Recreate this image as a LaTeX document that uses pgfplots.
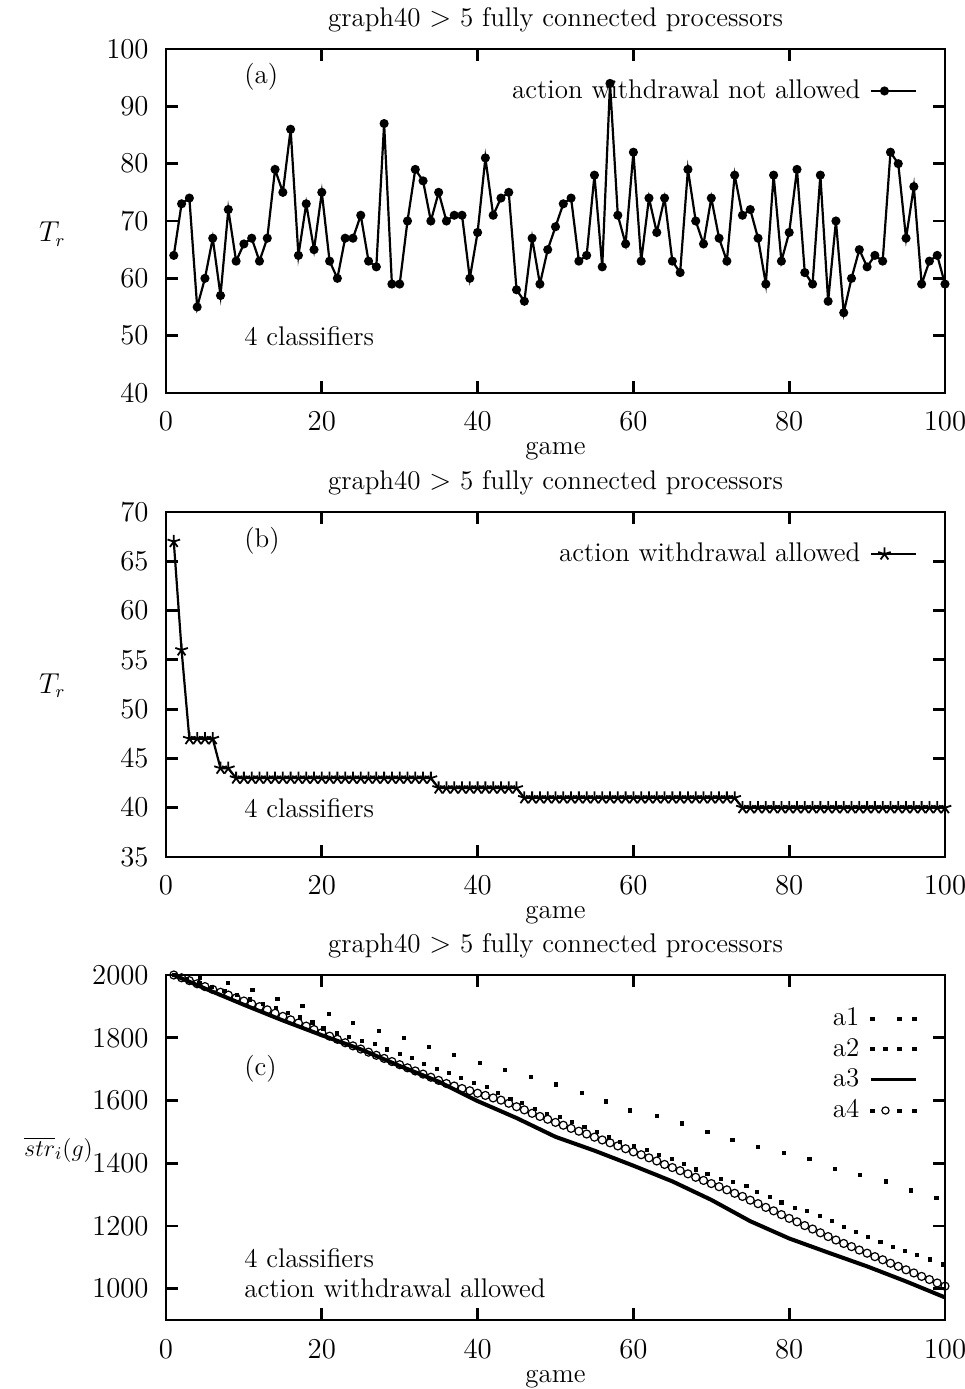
\documentclass[border=0pt]{standalone}
\usepackage{pgfplots}
\pgfplotsset{compat=1.18}
\pgfplotsset{
  gp/.style={
    scale only axis, width=389.5pt,
    xmin=0, xmax=100, xtick={0,20,40,60,80,100},
    /pgf/number format/1000 sep={},
    tick align=inside, tick pos=both, major tick length=6pt,
    axis line style={line width=1.4pt},
    tick style={line width=1.4pt, black},
    xticklabel style={anchor=base, yshift=-19pt},
    yticklabel style={anchor=east, xshift=-4pt},
    xlabel={game},
    xlabel style={at={(axis description cs:0.5,0)}, anchor=base, yshift=-31pt},
    title={graph40 $>$ 5 fully connected processors},
    title style={at={(axis description cs:0.5,1)}, anchor=base, yshift=5.5pt},
    clip=false,
    legend cell align=right, legend plot pos=right,
    legend style={draw=none, fill=none, column sep=3pt, row sep=0.3pt},
  },
}
\begin{document}%
\fontsize{13.5}{16}\selectfont%
\begin{tikzpicture}
\path[use as bounding box] (0,0) rectangle (482.5pt,694.5pt);
% ---------------- (a)
\begin{axis}[gp, at={(83pt,498pt)}, anchor=south west, height=172pt,
  ymin=40, ymax=100, ytick={40,50,...,100},
  ylabel={$T_r$}, ylabel style={rotate=-90, at={(axis description cs:-0.146,0.462)}, anchor=center},
  legend style={at={(axis description cs:0.973,0.878)}, anchor=east},
  legend image code/.code={\draw[#1,mark=none] (0pt,0pt) -- (22.5pt,0pt); \draw[#1,only marks] plot coordinates {(6.5pt,0pt)};},
]
\addplot[black, line width=1.1pt, mark=*, mark size=1.7pt] coordinates {
(1,64)(2,73)(3,74)(4,55)(5,60)(6,67)(7,57)(8,72)(9,63)(10,66)
(11,67)(12,63)(13,67)(14,79)(15,75)(16,86)(17,64)(18,73)(19,65)(20,75)
(21,63)(22,60)(23,67)(24,67)(25,71)(26,63)(27,62)(28,87)(29,59)(30,59)
(31,70)(32,79)(33,77)(34,70)(35,75)(36,70)(37,71)(38,71)(39,60)(40,68)
(41,81)(42,71)(43,74)(44,75)(45,58)(46,56)(47,67)(48,59)(49,65)(50,69)
(51,73)(52,74)(53,63)(54,64)(55,78)(56,62)(57,94)(58,71)(59,66)(60,82)
(61,63)(62,74)(63,68)(64,74)(65,63)(66,61)(67,79)(68,70)(69,66)(70,74)
(71,67)(72,63)(73,78)(74,71)(75,72)(76,67)(77,59)(78,78)(79,63)(80,68)
(81,79)(82,61)(83,59)(84,78)(85,56)(86,70)(87,54)(88,60)(89,65)(90,62)
(91,64)(92,63)(93,82)(94,80)(95,67)(96,76)(97,59)(98,63)(99,64)(100,59)
};
\addlegendentry{action withdrawal not allowed}
\node[anchor=west, inner sep=0pt] at (axis cs:10,95.1) {(a)};
\node[anchor=west, inner sep=0pt] at (axis cs:10,50) {4 classifiers};
\end{axis}
% ---------------- (b)
\begin{axis}[gp, at={(83pt,266pt)}, anchor=south west, height=172.5pt,
  ymin=35, ymax=70, ytick={35,40,...,70},
  ylabel={$T_r$}, ylabel style={rotate=-90, at={(axis description cs:-0.146,0.496)}, anchor=center},
  legend style={at={(axis description cs:0.973,0.878)}, anchor=east},
  legend image code/.code={\draw[#1,mark=none] (0pt,0pt) -- (22.5pt,0pt); \draw[#1,only marks] plot coordinates {(6.5pt,0pt)};},
]
\addplot[black, line width=1.1pt, mark=star, mark size=3.3pt, mark options={line width=0.9pt}] coordinates {
(1,67)(2,56)(3,47)(4,47)(5,47)(6,47)(7,44)(8,44)(9,43)(10,43)
(11,43)(12,43)(13,43)(14,43)(15,43)(16,43)(17,43)(18,43)(19,43)(20,43)
(21,43)(22,43)(23,43)(24,43)(25,43)(26,43)(27,43)(28,43)(29,43)(30,43)
(31,43)(32,43)(33,43)(34,43)(35,42)(36,42)(37,42)(38,42)(39,42)(40,42)
(41,42)(42,42)(43,42)(44,42)(45,42)(46,41)(47,41)(48,41)(49,41)(50,41)
(51,41)(52,41)(53,41)(54,41)(55,41)(56,41)(57,41)(58,41)(59,41)(60,41)
(61,41)(62,41)(63,41)(64,41)(65,41)(66,41)(67,41)(68,41)(69,41)(70,41)
(71,41)(72,41)(73,41)(74,40)(75,40)(76,40)(77,40)(78,40)(79,40)(80,40)
(81,40)(82,40)(83,40)(84,40)(85,40)(86,40)(87,40)(88,40)(89,40)(90,40)
(91,40)(92,40)(93,40)(94,40)(95,40)(96,40)(97,40)(98,40)(99,40)(100,40)
};
\addlegendentry{action withdrawal allowed}
\node[anchor=west, inner sep=0pt] at (axis cs:10,67.1) {(b)};
\node[anchor=west, inner sep=0pt] at (axis cs:10,40) {4 classifiers};
\end{axis}
% ---------------- (c)
\begin{axis}[gp, at={(83pt,34.5pt)}, anchor=south west, height=172.5pt,
  ymin=900, ymax=2000, ytick={1000,1200,...,2000},
  ylabel={$\overline{str}_i(g)$}, ylabel style={font=\fontsize{12.5}{15}\selectfont, rotate=-90, at={(axis description cs:-0.138,0.493)}, anchor=center},
  legend style={at={(axis description cs:0.973,0.93)}, anchor=north east},
]
\addplot[black, only marks, mark=square*, mark size=0.8pt,
  legend image code/.code={\fill (-0.8pt,-0.8pt) rectangle (0.8pt,0.8pt); \fill (12.7pt,-0.8pt) rectangle (14.3pt,0.8pt); \fill (20.2pt,-0.8pt) rectangle (21.8pt,0.8pt);}] coordinates {
(1.1,2000)(4.4,1990)(7.9,1975)(11.1,1952)(14.3,1924)(17.5,1902)(20.9,1877)(24.0,1848)
(27.3,1822)(30.5,1800)(33.7,1771)(37.0,1745)(40.3,1721)(43.5,1697)(46.8,1674)(50.0,1651)
(53.4,1625)(56.5,1597)(59.6,1568)(63.0,1552)(66.2,1527)(69.5,1500)(72.7,1473)(76.0,1453)
(79.3,1432)(82.6,1413)(85.9,1383)(89.1,1362)(92.4,1342)(95.6,1313)(98.9,1289)
};
\addlegendentry{a1}
\addplot[black, only marks, mark=square*, mark size=0.8pt,
  legend image code/.code={\fill (-0.8pt,-0.8pt) rectangle (0.8pt,0.8pt); \fill (5.7pt,-0.8pt) rectangle (7.3pt,0.8pt); \fill (12.7pt,-0.8pt) rectangle (14.3pt,0.8pt); \fill (20.2pt,-0.8pt) rectangle (21.8pt,0.8pt);}] coordinates {
(1,2000)(2.7,1988)(4.3,1975)(5.9,1962)(7.5,1949)(9.1,1936)(10.8,1922)(12.4,1908)(14.1,1896)
(15.6,1880)(17.2,1865)(18.8,1849)(20.2,1830)(21.9,1814)(23.5,1803)(25.1,1790)(26.8,1780)
(28.4,1763)(30.0,1748)(31.6,1736)(33.1,1717)(34.8,1701)(36.3,1688)(37.9,1671)(39.5,1657)
(41.2,1644)(42.6,1625)(44.2,1604)(45.7,1591)(47.4,1572)(48.9,1557)(50.6,1548)(52.1,1532)
(53.7,1516)(55.3,1500)(56.9,1482)(58.3,1468)(60.1,1455)(61.7,1442)(63.3,1426)(64.9,1413)
(66.5,1397)(68.0,1380)(69.5,1365)(71.2,1349)(72.8,1341)(74.5,1328)(75.9,1309)(77.5,1293)
(79.0,1275)(80.7,1258)(82.3,1248)(83.9,1231)(85.5,1215)(87.0,1197)(88.6,1181)(90.1,1165)
(91.7,1149)(93.3,1133)(94.9,1121)(96.4,1107)(98.1,1093)(99.7,1077)
};
\addlegendentry{a2}
\addplot[black, line width=2pt, mark=none,
  legend image code/.code={\draw[black, line width=1.5pt] (-0.8pt,0pt) -- (21.8pt,0pt);}] coordinates {
(1,2000)(5,1957)(10,1905)(15,1855)(20,1808)(25,1763)(30,1710)(35,1660)(40,1598)
(45,1544)(50,1484)(55,1440)(60,1392)(65,1342)(70,1283)(75,1215)(80,1160)(85,1115)
(90,1071)(95,1023)(100,972)
};
\addlegendentry{a3}
\addplot[black, only marks, mark=o, mark size=2pt, mark options={line width=0.6pt},
  legend image code/.code={\fill (-0.8pt,-0.8pt) rectangle (0.8pt,0.8pt); \draw[line width=0.6pt] (6.5pt,0pt) circle (1.8pt); \fill (12.7pt,-0.8pt) rectangle (14.3pt,0.8pt); \fill (20.2pt,-0.8pt) rectangle (21.8pt,0.8pt);}] coordinates {
(1,2000)(2,1991)(3,1982)(4,1972)(5,1963)(6,1954)(7,1945)(8,1936)(9,1927)(10,1917)
(11,1908)(12,1899)(13,1889)(14,1878)(15,1868)(16,1857)(17,1847)(18,1837)(19,1826)(20,1816)
(21,1805)(22,1795)(23,1784)(24,1774)(25,1764)(26,1754)(27,1744)(28,1734)(29,1724)(30,1714)
(31,1704)(32,1694)(33,1684)(34,1674)(35,1664)(36,1654)(37,1646)(38,1638)(39,1631)(40,1623)
(41,1616)(42,1608)(43,1601)(44,1591)(45,1580)(46,1570)(47,1559)(48,1549)(49,1540)(50,1530)
(51,1521)(52,1511)(53,1502)(54,1493)(55,1483)(56,1474)(57,1465)(58,1455)(59,1446)(60,1436)
(61,1427)(62,1417)(63,1407)(64,1396)(65,1386)(66,1376)(67,1366)(68,1355)(69,1345)(70,1335)
(71,1325)(72,1315)(73,1304)(74,1294)(75,1282)(76,1271)(77,1259)(78,1248)(79,1236)(80,1224)
(81,1213)(82,1201)(83,1190)(84,1178)(85,1166)(86,1155)(87,1144)(88,1134)(89,1123)(90,1113)
(91,1102)(92,1092)(93,1081)(94,1071)(95,1060)(96,1050)(97,1039)(98,1029)(99,1018)(100,1008)
};
\addlegendentry{a4}
\node[anchor=west, inner sep=0pt] at (axis cs:10,1700) {(c)};
\node[anchor=west, inner sep=0pt] at (axis cs:10,1097) {4 classifiers};
\node[anchor=west, inner sep=0pt] at (axis cs:10,1000) {action withdrawal allowed};
\end{axis}
\end{tikzpicture}%
\end{document}
